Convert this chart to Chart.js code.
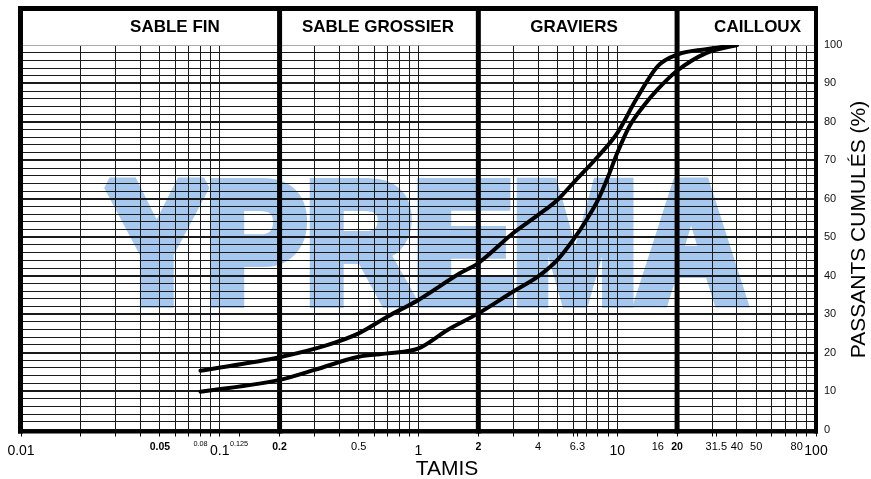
<!DOCTYPE html>
<html><head><meta charset="utf-8">
<script src="https://cdn.jsdelivr.net/npm/chart.js@4.4.1/dist/chart.umd.min.js"></script>
<style>html,body{margin:0;padding:0;background:#fff;}canvas{display:block;}</style>
</head><body>
<canvas id="c" width="871" height="479"></canvas>
<script>
// ---- data ----
const sieveUpper = [0.08, 0.2, 0.35, 0.5, 0.7, 1, 1.6, 2, 3, 4, 5, 6, 8, 10, 12.5, 16, 20, 28, 40];
const passUpper  = [15.3, 18.8, 22, 25, 29.4, 33.7, 40.5, 43.3, 51.1, 55.8, 59.7, 64.1, 71, 77.1, 86, 94.5, 97.5, 98.9, 100];
const sieveLower = [0.08, 0.2, 0.3, 0.5, 0.7, 1, 1.4, 2, 3, 4, 5, 6, 7, 8, 9, 10, 11.5, 13.5, 16, 20, 28, 40];
const passLower  = [9.8, 12.9, 15.5, 18.9, 19.8, 21.1, 25.9, 30.2, 35.9, 39.8, 44.1, 49.3, 54.5, 59.7, 65.8, 71.9, 78.8, 84, 88.5, 93.3, 97.9, 100];

// ---- axes / labels ----
const xMin = 0.01, xMax = 100;
const xGridValues = [0.01,0.02,0.03,0.04,0.05,0.06,0.07,0.08,0.09,
                     0.1,0.2,0.3,0.4,0.5,0.6,0.7,0.8,0.9,
                     1,2,3,4,5,6,7,8,9,
                     10,20,30,40,50,60,70,80,90,100];
const xExtraTicks = [0.125, 6.3, 16, 31.5];
const separators = [0.2, 2, 20];
const bigXLabels = [0.01, 0.1, 1, 10, 100];
const boldXLabels = [0.05, 0.2, 2, 20];
const smallXLabels = [0.5, 4, 6.3, 16, 31.5, 40, 50, 80];
const tinyXLabels = [0.08, 0.125];
const sectionNames = ['SABLE FIN', 'SABLE GROSSIER', 'GRAVIERS', 'CAILLOUX'];
const sectionAnchors = [0.0595, 0.625, 6.06, 50.8];
const yMin = 0, yMax = 100, yStep = 2, yLabelStep = 10;
const xTitle = 'TAMIS';
const yTitle = 'PASSANTS CUMULÉS (%)';
const watermark = 'YPREMA';

const FONT = '"Liberation Sans", Arial, sans-serif';

const upperData = sieveUpper.map((s, i) => ({x: s, y: passUpper[i]}));
const lowerData = sieveLower.map((s, i) => ({x: s, y: passLower[i]}));

const paper = {
  id: 'paper',
  beforeDraw(chart) {
    const ctx = chart.ctx;
    ctx.save();
    ctx.fillStyle = '#fff';
    ctx.fillRect(0, 0, chart.width, chart.height);
    ctx.font = 'bold 168px ' + FONT;
    const w = ctx.measureText(watermark).width;
    ctx.translate(107, 301);
    ctx.scale(638 / w, 1);
    ctx.fillStyle = '#a7c8ee';
    ctx.strokeStyle = '#a7c8ee';
    ctx.lineWidth = 14;
    ctx.lineJoin = 'miter';
    ctx.miterLimit = 2;
    ctx.textBaseline = 'alphabetic';
    ctx.textAlign = 'left';
    ctx.fillText(watermark, 0, 0);
    ctx.strokeText(watermark, 0, 0);
    ctx.restore();
  },
  afterDraw(chart) {
    const ctx = chart.ctx;
    const xs = chart.scales.x;
    const a = chart.chartArea;
    const top = 8.5;
    ctx.save();
    ctx.strokeStyle = '#000';
    ctx.lineCap = 'butt';
    const line = (x1, y1, x2, y2, w) => { ctx.lineWidth = w; ctx.beginPath(); ctx.moveTo(x1, y1); ctx.lineTo(x2, y2); ctx.stroke(); };
    line(a.left - 0.5, top - 2.5, a.left - 0.5, a.bottom + 4, 5);
    line(a.right, top - 2.5, a.right, a.bottom + 4, 4);
    line(a.left - 3, top, a.right + 2, top, 5);
    line(a.left - 3, a.bottom + 2, a.right + 2, a.bottom + 2, 4);
    separators.forEach(v => { const px = xs.getPixelForValue(v); line(px, top, px, a.bottom + 4, 5); });
    ctx.fillStyle = '#000';
    ctx.textAlign = 'center';
    ctx.textBaseline = 'middle';
    ctx.font = 'bold 17px ' + FONT;
    sectionNames.forEach((n, i) => ctx.fillText(n, xs.getPixelForValue(sectionAnchors[i]), 27));
    const drawGroup = (vals, font, y) => {
      ctx.font = font;
      vals.forEach(v => ctx.fillText(String(v), xs.getPixelForValue(v), y));
    };
    drawGroup(bigXLabels, '14px ' + FONT, 451.5);
    drawGroup(boldXLabels, 'bold 10.5px ' + FONT, 447.5);
    drawGroup(smallXLabels, '11px ' + FONT, 446.5);
    drawGroup(tinyXLabels, '7.3px ' + FONT, 443.5);
    ctx.font = '21px ' + FONT;
    ctx.fillText(xTitle, 447, 469);
    ctx.translate(859.5, 229.5);
    ctx.rotate(-Math.PI / 2);
    ctx.fillText(yTitle, 0, 0);
    ctx.restore();
  }
};

new Chart(document.getElementById('c'), {
  type: 'line',
  data: {
    datasets: [
      {data: upperData, borderColor: '#000', borderWidth: 4, pointRadius: 0, cubicInterpolationMode: 'monotone', fill: false, borderCapStyle: 'round'},
      {data: lowerData, borderColor: '#000', borderWidth: 4, pointRadius: 0, cubicInterpolationMode: 'monotone', fill: false, borderCapStyle: 'round'}
    ]
  },
  options: {
    responsive: false,
    animation: false,
    devicePixelRatio: 1,
    layout: {padding: {top: 45, left: 21, right: 0, bottom: 0}},
    plugins: {legend: {display: false}, tooltip: {enabled: false}, title: {display: false}},
    scales: {
      x: {
        type: 'logarithmic', min: xMin, max: xMax, position: 'bottom',
        afterBuildTicks: s => { s.ticks = xGridValues.concat(xExtraTicks).sort((p, q) => p - q).map(v => ({value: v})); },
        afterFit: s => { s.height = 49.5; },
        ticks: {display: false, autoSkip: false},
        border: {display: false},
        grid: {
          color: c => (c.tick && xExtraTicks.includes(c.tick.value)) ? 'rgba(0,0,0,0)' : '#1a1a1a',
          tickColor: '#000', lineWidth: 1, tickLength: 7, drawTicks: true
        }
      },
      y: {
        type: 'linear', position: 'right', min: yMin, max: yMax,
        afterFit: s => { s.width = 55; },
        ticks: {
          stepSize: yStep, autoSkip: false, padding: 8, color: '#111',
          font: {family: FONT, size: 11},
          callback: v => (Math.round(v) % yLabelStep === 0 ? String(Math.round(v)) : '')
        },
        border: {display: false},
        grid: {
          drawTicks: false,
          color: c => (c.tick && Math.round(c.tick.value) === 100) ? '#aaa' : '#1a1a1a',
          lineWidth: c => { const v = c.tick ? Math.round(c.tick.value) : 0; return (v % 10 === 0 && v !== 100) ? 2 : 1; }
        }
      }
    }
  },
  plugins: [paper]
});
</script>
</body></html>
